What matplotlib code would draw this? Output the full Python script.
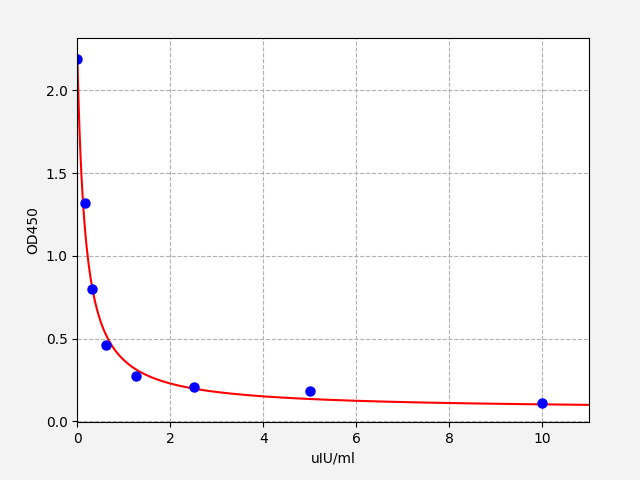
import numpy as np
import matplotlib
matplotlib.use('Agg')
import matplotlib.pyplot as plt

# standard points
conc = [0, 0.156, 0.3125, 0.625, 1.25, 2.5, 5, 10]
od = [2.187, 1.318, 0.802, 0.458, 0.272, 0.206, 0.181, 0.109]

# 4PL curve parameters (top, slope, mid, bottom)
top = 2.17
slope = 1.03
mid = 0.175
bottom = 0.07

xs = np.linspace(0, 11, 500)
curve = bottom + (top - bottom) / (1 + (xs / mid) ** slope)

fig = plt.figure(figsize=(6.4, 4.8), dpi=100, facecolor='#f3f3f3')
ax = fig.add_subplot(111)
fig.subplots_adjust(left=0.121, right=0.920, top=0.920, bottom=0.121)

ax.plot(xs, curve, color='red', linewidth=1.5)
ax.plot(conc, od, 'o', color='blue', markersize=6.5)

ax.set_xlim(0, 11)
ax.set_ylim(-0.004, 2.314)
ax.set_xlabel('uIU/ml')
ax.set_ylabel('OD450')
ax.grid(True, linestyle='--', color='#b0b0b0', linewidth=0.8)

fig.savefig('out.png', facecolor=fig.get_facecolor())
